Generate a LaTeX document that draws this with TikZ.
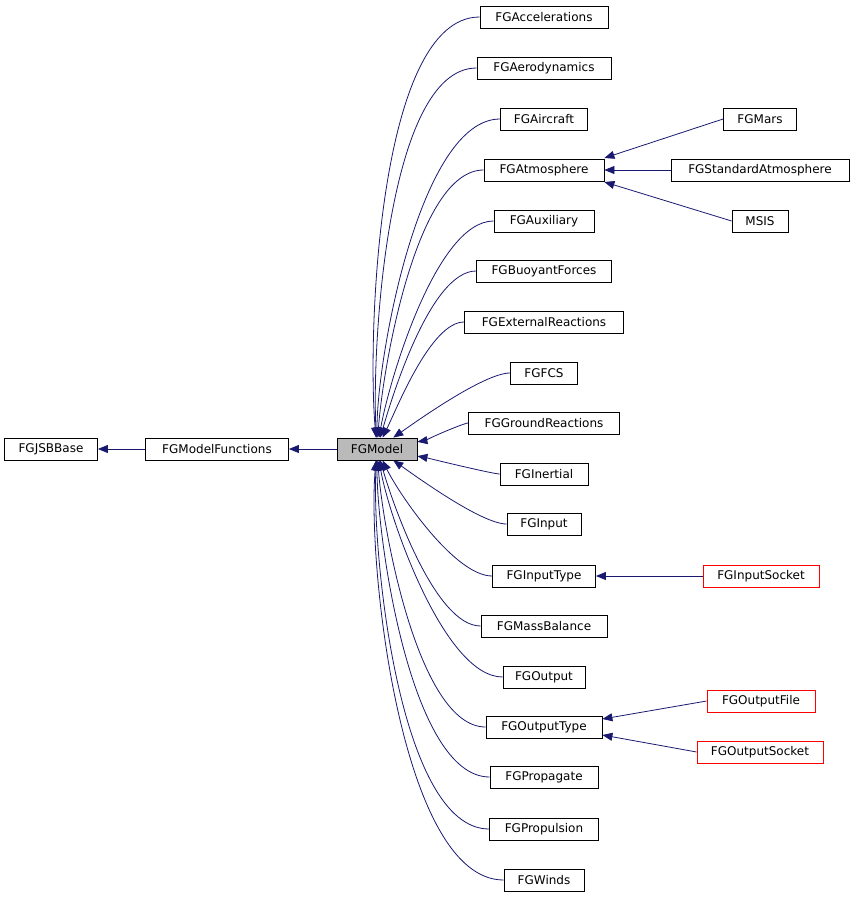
\documentclass[tikz,border=0pt]{standalone}
\usepackage{fontspec}
\setmainfont{DejaVu Sans}
\usetikzlibrary{arrows.meta}
\definecolor{edgec}{HTML}{191970}
\begin{document}
\begin{tikzpicture}[x=1pt,y=-1pt,
  box/.style={draw=black,fill=white,minimum height=22pt,inner sep=0pt,font=\fontsize{12}{14}\selectfont,line width=0.8pt},
  redbox/.style={draw=red,fill=white,minimum height=22pt,inner sep=0pt,font=\fontsize{12}{14}\selectfont,line width=0.8pt},
  edge/.style={draw=edgec,line width=0.8pt,-{Triangle[length=10pt,width=8pt]}}]
\useasboundingbox (0,0) rectangle (855,899);
\node[box,minimum width=93pt] (jsb) at (51,449) {FGJSBBase};
\node[box,minimum width=143pt] (mf) at (217,449) {FGModelFunctions};
\node[box,minimum width=80pt,fill=black!27] (m) at (377,449) {FGModel};
\foreach \n/\y/\w/\a/\l in {
 FGAccelerations/17/128/95/0.6, FGAerodynamics/68/134/93/0.6, FGAircraft/119/87/90/0.6, FGAtmosphere/170/120/86/0.6,
 FGAuxiliary/221/100/80/0.6, FGBuoyantForces/271/135/74/0.6, FGExternalReactions/322/159/64/0.6, FGFCS/373/67/35/0.5,
 FGGroundReactions/423/151/10/0.2, FGInertial/474/88/-10/0.2, FGInput/524/74/-35/0.5, FGInputType/576/103/-64/0.6,
 FGMassBalance/626/126/-74/0.6, FGOutput/677/82/-80/0.6, FGOutputType/727/116/-86/0.6, FGPropagate/777/108/-90/0.6,
 FGPropulsion/829/109/-93/0.6, FGWinds/880/80/-95/0.6}{
  \node[box,minimum width=\w pt] (\n) at (544,\y) {\n};
  \draw[edge] (\n.west) to[out=180,in=\a,looseness=\l] (m);
}
\node[box,minimum width=73pt] (mars) at (760,119) {FGMars};
\node[box,minimum width=178pt] (std) at (760,170) {FGStandardAtmosphere};
\node[box,minimum width=56pt] (msis) at (760,221) {MSIS};
\node[redbox,minimum width=116pt] (is) at (761,576) {FGInputSocket};
\node[redbox,minimum width=108pt] (of) at (761,701) {FGOutputFile};
\node[redbox,minimum width=126pt] (os) at (760,752) {FGOutputSocket};
\draw[edge] (mf) -- (jsb);
\draw[edge] (m) -- (mf);
\draw[edge] (mars.west) -- (FGAtmosphere.east|-0,158);
\draw[edge] (std) -- (FGAtmosphere);
\draw[edge] (msis.west) -- (FGAtmosphere.east|-0,182);
\draw[edge] (is) -- (FGInputType);
\draw[edge] (of.west) -- (FGOutputType.east|-0,719);
\draw[edge] (os.west) -- (FGOutputType.east|-0,735);
\end{tikzpicture}
\end{document}
